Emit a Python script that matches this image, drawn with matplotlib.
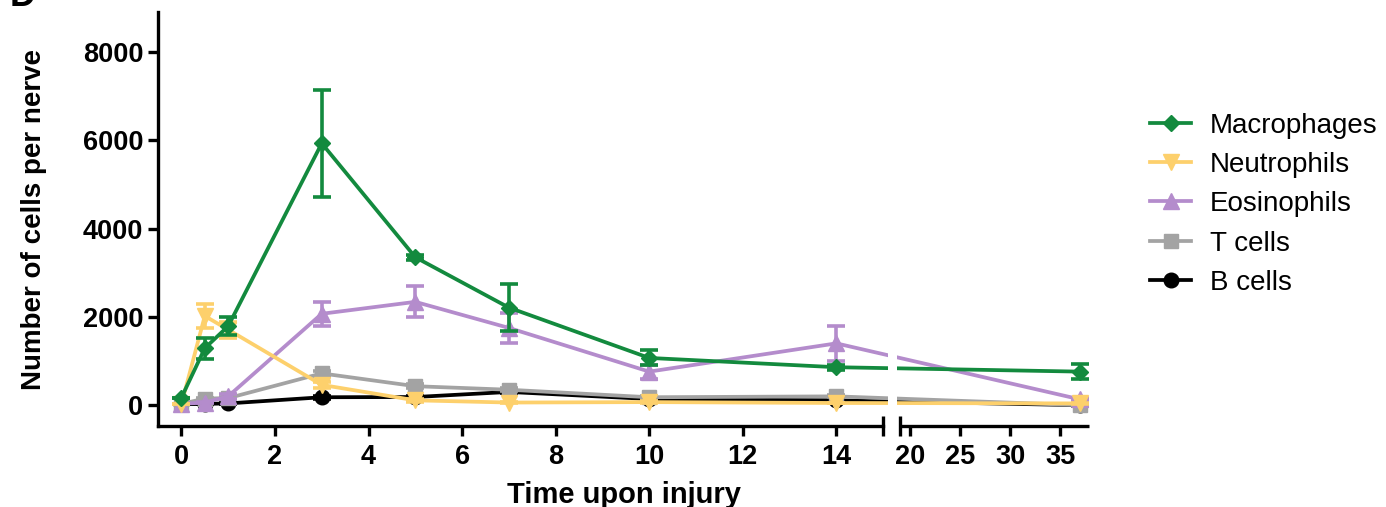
import numpy as np
import matplotlib
matplotlib.use('Agg')
import matplotlib.pyplot as plt

plt.rcParams['font.family'] = ['Liberation Sans', 'DejaVu Sans']

# Daten (Zeit in Tagen nach Verletzung)
tage = [0, 0.5, 1, 3, 5, 7, 10, 14, 37]

makrophagen = [170, 1290, 1790, 5930, 3350, 2210, 1070, 860, 760]
makrophagen_err = [0, 240, 210, 1210, 60, 530, 170, 60, 170]
neutrophile = [20, 2020, 1710, 460, 110, 60, 70, 50, 40]
neutrophile_err = [0, 270, 180, 60, 30, 20, 20, 10, 10]
eosinophile = [30, 60, 200, 2070, 2340, 1750, 760, 1400, 130]
eosinophile_err = [0, 20, 60, 270, 350, 340, 160, 400, 40]
t_zellen = [30, 150, 160, 720, 430, 350, 180, 200, 0]
t_zellen_err = [0, 20, 20, 60, 40, 30, 20, 20, 10]
b_zellen = [20, 30, 40, 180, 185, 300, 140, 110, 0]
b_zellen_err = [0, 10, 10, 30, 20, 30, 20, 20, 10]

namen = ['Macrophages', 'Neutrophils', 'Eosinophils', 'T cells', 'B cells']
farben = ['#138a3e', '#fdd06c', '#b48ccc', '#a3a3a3', '#000000']
marker = ['D', 'v', '^', 's', 'o']
marker_groesse = [8.5, 11, 11, 10, 10.5]

x_ticks = [0, 2, 4, 6, 8, 10, 12, 14, 20, 25, 30, 35]
y_ticks = [0, 2000, 4000, 6000, 8000]

# unterbrochene x-Achse: 0-15 normal, 19-38 gestaucht
BRUCH_A, BRUCH_B = 15.0, 19.0
LUECKE = 0.364
FAKTOR = 0.214


def vorwaerts(x):
    x = np.asarray(x, dtype=float)
    mitte = BRUCH_A + (x - BRUCH_A) * LUECKE / (BRUCH_B - BRUCH_A)
    rechts = BRUCH_A + LUECKE + (x - BRUCH_B) * FAKTOR
    return np.where(x <= BRUCH_A, x, np.where(x < BRUCH_B, mitte, rechts))


def rueckwaerts(t):
    t = np.asarray(t, dtype=float)
    mitte = BRUCH_A + (t - BRUCH_A) * (BRUCH_B - BRUCH_A) / LUECKE
    rechts = BRUCH_B + (t - BRUCH_A - LUECKE) / FAKTOR
    return np.where(t <= BRUCH_A, t, np.where(t < BRUCH_A + LUECKE, mitte, rechts))


fig = plt.figure(figsize=(13.86, 5.07), dpi=100)
ax = fig.add_axes([0.114, 0.159, 0.672, 0.817])
ax.set_xscale('function', functions=(vorwaerts, rueckwaerts))

werte = [makrophagen, neutrophile, eosinophile, t_zellen, b_zellen]
fehler = [makrophagen_err, neutrophile_err, eosinophile_err, t_zellen_err, b_zellen_err]

linien = []
for i in reversed(range(len(namen))):
    ax.errorbar(tage, werte[i], yerr=fehler[i], fmt='none', ecolor=farben[i],
                elinewidth=2.6, capsize=6.5, capthick=2.6, zorder=2 + (5 - i))
    l, = ax.plot(tage, werte[i], color=farben[i], lw=2.7, marker=marker[i],
                 markersize=marker_groesse[i], label=namen[i], zorder=2 + (5 - i))
    linien.append(l)
linien = linien[::-1]

# Lücke in den Linien
ax.axvspan(16.1, 18.2, color='white', zorder=20, lw=0)

ax.set_xlim(-0.5, 37.9)
ax.set_ylim(-480, 8900)
ax.set_xticks(x_ticks)
ax.set_xticklabels([str(t) for t in x_ticks])
ax.set_yticks(y_ticks)
ax.set_xticks([BRUCH_A, BRUCH_B], minor=True)

for s in ['top', 'right']:
    ax.spines[s].set_visible(False)
for s in ['left', 'bottom']:
    ax.spines[s].set_linewidth(2.4)
ax.spines['bottom'].set_bounds(-0.5, BRUCH_A)
ax.plot([BRUCH_B, 37.9], [0, 0], transform=ax.get_xaxis_transform(), color='black',
        lw=2.4, clip_on=False, solid_capstyle='butt')

ax.tick_params(which='major', width=2.4, length=7.5, labelsize=19.5, pad=3)
ax.tick_params(axis='x', which='major', pad=5)
ax.tick_params(which='minor', axis='x', width=2.4, length=14, direction='inout')
for lab in ax.get_xticklabels() + ax.get_yticklabels():
    lab.set_fontweight('bold')

ax.set_xlabel('Time upon injury', fontsize=21, fontweight='bold', labelpad=8)
ax.set_ylabel('Number of cells per nerve', fontsize=20, fontweight='bold', labelpad=26)

fig.legend(handles=linien, labels=namen, loc='upper left', bbox_to_anchor=(0.822, 0.80),
           frameon=False, fontsize=20, handlelength=1.45, handletextpad=0.7,
           labelspacing=0.48, borderaxespad=0)

fig.text(0.007, 0.988, 'D', fontsize=26, fontweight='bold', va='baseline')

fig.savefig('out.png', dpi=100)
